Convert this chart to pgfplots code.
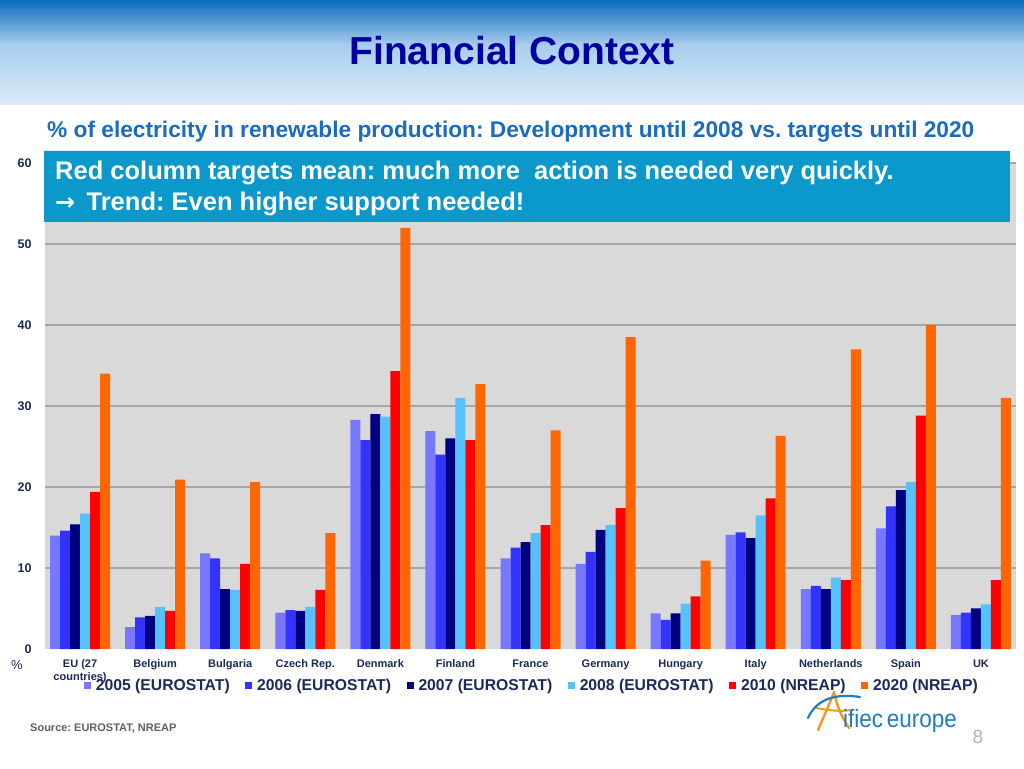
\documentclass[border=0pt]{standalone}
\usepackage{fontspec}
\setmainfont{Liberation Sans}
\newfontfamily\symfont{DejaVu Sans}
\usepackage{pgfplots}
\pgfplotsset{compat=1.18}
\definecolor{hdrA}{HTML}{0A6CBC}
\definecolor{hdrB}{HTML}{A9CDEE}
\definecolor{hdrC}{HTML}{DCEBF9}
\definecolor{titleblue}{HTML}{0000A0}
\definecolor{subblue}{HTML}{1B6CC0}
\definecolor{boxblue}{HTML}{0B98CA}
\definecolor{navytxt}{HTML}{1B2A5C}
\definecolor{plotgray}{HTML}{D9D9D9}
\definecolor{gridgray}{HTML}{A6A6A6}
\definecolor{cA}{HTML}{7878FF}
\definecolor{cB}{HTML}{3333FF}
\definecolor{cC}{HTML}{000080}
\definecolor{cD}{HTML}{55C2FF}
\definecolor{cE}{HTML}{FF0000}
\definecolor{cF}{HTML}{FF6600}
\definecolor{logoblue}{HTML}{1E7DC2}
\definecolor{logoorange}{HTML}{F39A1E}
\frenchspacing
\begin{document}
\begin{tikzpicture}[x=1pt,y=1pt]
\useasboundingbox (0,0) rectangle (1024,768);
\fill[white] (0,0) rectangle (1024,768);
\shade[top color=hdrA, bottom color=hdrB] (0,723) rectangle (1024,768);
\shade[top color=hdrB, bottom color=hdrC] (0,663) rectangle (1024,723.5);
\node[anchor=base, font=\bfseries\fontsize{39}{42}\selectfont, text=titleblue, inner sep=0] at (512,703) {Financial Context};
\node[anchor=base west, font=\bfseries\fontsize{22.7}{26}\selectfont, text=subblue, inner sep=0] at (47,630) {\% of electricity in renewable production: Development until 2008 vs. targets until 2020};
\begin{axis}[
  at={(45pt,119pt)}, anchor=south west, scale only axis,
  width=971pt, height=486pt,
  ybar=0pt, bar width=10pt,
  xmin=-0.467, xmax=12.467, ymin=0, ymax=60,
  ytick={10,20,...,60},
  extra y ticks={0}, extra y tick style={grid=none},
  xtick={0,...,12},
  xticklabels={{EU (27\\countries)},Belgium,Bulgaria,Czech Rep.,Denmark,Finland,France,Germany,Hungary,Italy,Netherlands,Spain,UK},
  axis background/.style={fill=plotgray},
  ymajorgrids, grid style={gridgray, line width=1.2pt},
  axis line style={draw=none},
  major tick style={draw=none},
  /pgf/number format/assume math mode=true,
  yticklabel style={font=\bfseries\fontsize{12.5}{14}\selectfont, text=navytxt, xshift=-10pt},
  xticklabel style={font=\bfseries\fontsize{11}{13}\selectfont, text=navytxt, align=center, yshift=-3pt},
  legend style={at={(0.5015,-0.076)}, anchor=center, draw=none, fill=none,
    font=\bfseries\fontsize{15.7}{18}\selectfont, text=navytxt,
    legend columns=6,
    /tikz/every odd column/.append style={column sep=3pt},
    /tikz/every even column/.append style={column sep=13.5pt},
    inner sep=0pt},
  legend image code/.code={\fill[#1] (0pt,-3.5pt) rectangle (7pt,3.5pt);},
]
\addplot[fill=cA, draw=none] coordinates {(0,14.0) (1,2.7) (2,11.8) (3,4.5) (4,28.3) (5,26.9) (6,11.2) (7,10.5) (8,4.4) (9,14.1) (10,7.4) (11,14.9) (12,4.2)};
\addplot[fill=cB, draw=none] coordinates {(0,14.6) (1,3.9) (2,11.2) (3,4.8) (4,25.8) (5,24.0) (6,12.5) (7,12.0) (8,3.6) (9,14.4) (10,7.8) (11,17.6) (12,4.5)};
\addplot[fill=cC, draw=none] coordinates {(0,15.4) (1,4.1) (2,7.4) (3,4.7) (4,29.0) (5,26.0) (6,13.2) (7,14.7) (8,4.4) (9,13.7) (10,7.4) (11,19.6) (12,5.0)};
\addplot[fill=cD, draw=none] coordinates {(0,16.7) (1,5.2) (2,7.3) (3,5.2) (4,28.7) (5,31.0) (6,14.3) (7,15.3) (8,5.6) (9,16.5) (10,8.8) (11,20.6) (12,5.5)};
\addplot[fill=cE, draw=none] coordinates {(0,19.4) (1,4.7) (2,10.5) (3,7.3) (4,34.3) (5,25.8) (6,15.3) (7,17.4) (8,6.5) (9,18.6) (10,8.5) (11,28.8) (12,8.5)};
\addplot[fill=cF, draw=none] coordinates {(0,34.0) (1,20.9) (2,20.6) (3,14.3) (4,52.0) (5,32.7) (6,27.0) (7,38.5) (8,10.9) (9,26.3) (10,37.0) (11,40.0) (12,31.0)};
\legend{2005 (EUROSTAT),2006 (EUROSTAT),2007 (EUROSTAT),2008 (EUROSTAT),2010 (NREAP),2020 (NREAP)}
\end{axis}
\node[font=\fontsize{13}{14}\selectfont, text=navytxt] at (17,103) {\%};
% callout box
\fill[boxblue] (44,546) rectangle (1010,618);
\draw[white!85!boxblue, line width=0.6pt] (44,618) -- (1010,618);
\node[anchor=base west, font=\bfseries\fontsize{25.5}{31}\selectfont, text=white, inner sep=0] at (55,588) {Red column targets mean: much more\ \ action is needed very quickly.};
\node[anchor=base west, font=\bfseries\fontsize{25.5}{31}\selectfont, text=white, inner sep=0] at (55,557) {{\symfont\bfseries\fontsize{24}{24}\selectfont →}\, Trend: Even higher support needed!};
% source
\node[anchor=base west, font=\bfseries\fontsize{11}{13}\selectfont, text=black!62, inner sep=0] at (30,37) {Source: EUROSTAT, NREAP};
% logo
\draw[logoorange, line width=2.4pt, line cap=round] (818,38) .. controls (824,52) and (829,63) .. (834,76);
\draw[logoorange, line width=2.4pt, line cap=round] (834,76) .. controls (837,62) and (841,52) .. (849,40);
\draw[logoorange, line width=2pt, line cap=round] (816,60) .. controls (828,58) and (838,56) .. (852,58);
\draw[logoblue, line width=2.2pt, line cap=round] (808,50) .. controls (816,68) and (834,75) .. (860,71);
\node[anchor=base west, font=\fontsize{25}{28}\selectfont, text=logoblue, inner sep=0, xscale=0.9] at (843,41) {ifiec\,europe};
% page number
\node[font=\fontsize{19}{20}\selectfont, text=black!30] at (978,31) {8};
\end{tikzpicture}
\end{document}
